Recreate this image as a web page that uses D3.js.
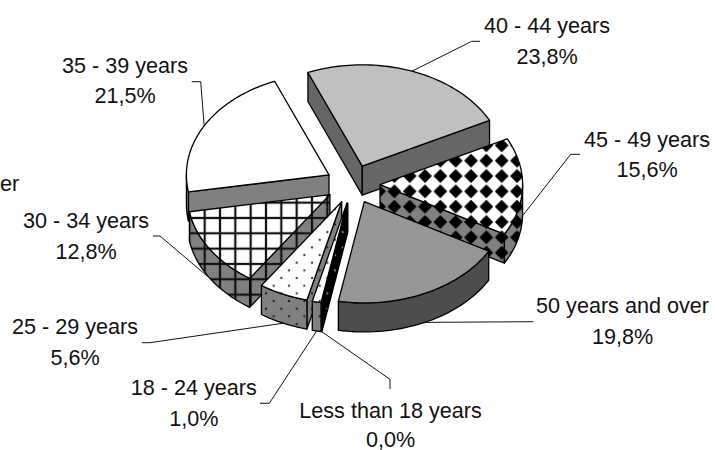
<!DOCTYPE html>
<html>
<head>
<meta charset="utf-8">
<style>html,body{margin:0;padding:0;background:#fff;overflow:hidden}text{font-family:"Liberation Sans",sans-serif;font-size:21.6px;fill:#111}</style>
<script src="https://cdn.jsdelivr.net/npm/d3@7/dist/d3.min.js"></script>
</head>
<body>
<svg id="c" width="715" height="450"></svg>
<script>
// Data
const categories = ["Less than 18 years","18 - 24 years","25 - 29 years","30 - 34 years","35 - 39 years","40 - 44 years","45 - 49 years","50 years and over"];
const values = [0.0,1.0,5.6,12.8,21.5,23.8,15.6,19.8];
const valueLabels = ["0,0%","1,0%","5,6%","12,8%","21,5%","23,8%","15,6%","19,8%"];

// Chart layout
const W=715,H=450, cx=352.8, cy=184.2, R=142.6, tilt=0.71, depth=29, explode=27.2;
const firstSlice=190.5*Math.PI/180;
const sx=d3.scaleLinear().domain([-1,1]).range([cx-R,cx+R]);
const sy=d3.scaleLinear().domain([-1,1]).range([cy-R*tilt,cy+R*tilt]);
const faceStyles=[
 {top:"#fff",face:"url(#dotsK)",wall:"url(#dotsG)"},
 {top:"url(#dotsW)",face:"url(#dotsG)",wall:"url(#dotsG)"},
 {top:"url(#dotsW)",face:"url(#dotsG)",wall:"url(#dotsG)"},
 {top:"url(#gridW)",face:"url(#gridG)",wall:"url(#gridG)"},
 {top:"#fff",face:"#808080",wall:"#808080"},
 {top:"#c0c0c0",face:"#666",wall:"#666"},
 {top:"url(#diaW)",face:"url(#diaG)",wall:"url(#diaG)"},
 {top:"#969696",face:"#4d4d4d",wall:"#4d4d4d"}
];
// label centre x, first baseline, second baseline, leader elbow and end
const labelPlaces=[
 {x:390.5,y1:418.3,y2:446.5,elbow:[390,379.3],end:[390,389]},
 {x:193.8,y1:395,y2:426,elbow:[269.3,403.3],end:[260,403.3]},
 {x:75,y1:334,y2:365,elbow:[150,342.7],end:[141.7,342.7]},
 {x:86,y1:228,y2:258.5,elbow:[160,236],end:[153,236]},
 {x:125,y1:72.7,y2:103.3,elbow:[200.7,81.7],end:[191.7,81.7]},
 {x:547,y1:33,y2:64,elbow:[471.7,41.3],end:[480,41.3]},
 {x:647,y1:146.7,y2:177,elbow:[570.7,154.3],end:[580,154.3]},
 {x:622.5,y1:313.3,y2:344,elbow:[533.3,321.7],end:[533.3,321.7]}
];

const svg=d3.select("#c");
const defs=svg.append("defs");
const P=15.33;
function pattern(id,bg,ox,oy,draw){
  const p=defs.append("pattern").attr("id",id).attr("patternUnits","userSpaceOnUse")
    .attr("width",P).attr("height",P).attr("patternTransform",`translate(${ox},${oy})`);
  p.append("rect").attr("width",P).attr("height",P).attr("fill",bg);
  draw(p);
}
const grid=p=>{
  p.append("rect").attr("x",P/2-1.1).attr("width",2.2).attr("height",P).attr("fill","#111");
  p.append("rect").attr("y",P/2-1.1).attr("height",2.2).attr("width",P).attr("fill","#111");
};
const dia=p=>p.append("path").attr("fill","#000")
  .attr("d",`M${P/2},${P/2-6.9}L${P/2+6.9},${P/2}L${P/2},${P/2+6.9}L${P/2-6.9},${P/2}Z`);
const dots=c=>p=>[[P/4,P/4],[3*P/4,3*P/4]].forEach(d=>p.append("circle").attr("cx",d[0]).attr("cy",d[1]).attr("r",1.2).attr("fill",c));
pattern("gridW","#fff",220-P/2,233.3-P/2,grid);
pattern("gridG","#808080",220-P/2,233.3-P/2,grid);
pattern("diaW","#fff",501.7-P/2,160.7-P/2,dia);
pattern("diaG","#808080",501.7-P/2,160.7-P/2,dia);
pattern("dotsW","#fff",296.7-P/4,262.7-P/4,dots("#444"));
pattern("dotsG","#808080",296.7-P/4,262.7-P/4,dots("#222"));
pattern("dotsK","#000",296.7-P/4,262.7-P/4,dots("#777"));

const TAU=2*Math.PI;
const arcs=d3.pie().sort(null).value(d=>d).startAngle(firstSlice).endAngle(firstSlice+TAU)(values);
const line=d3.line();
const toRim=(a,ax,ay,dz=0)=>[ax+sx(Math.sin(a))-sx(0), ay+sy(-Math.cos(a))-sy(0)+dz];

const slices=arcs.map((a,i)=>{
  const mid=(a.startAngle+a.endAngle)/2;
  const ax=sx(Math.sin(mid)*explode/R), ay=sy(-Math.cos(mid)*explode/R);
  return {a,i,mid,ax,ay};
});
const order=slices.slice().sort((p,q)=>Math.cos(q.mid)-Math.cos(p.mid));
// The zero slice is only a cut face, and sits on top of its neighbour
order.sort((p,q)=>(p.a.value===0)-(q.a.value===0));

const g=svg.append("g").attr("stroke","#000").attr("stroke-width",1.3).attr("stroke-linejoin","round");
order.forEach(s=>{
  const {a,i,ax,ay}=s, st=faceStyles[i];
  const wrap=a.startAngle>=TAU?TAU:0;
  const a0=a.startAngle-wrap, a1=a.endAngle-wrap;
  const radial=t=>[[ax,ay],toRim(t,ax,ay),toRim(t,ax,ay,depth),[ax,ay+depth]];
  if(Math.sin(a0)<0) g.append("path").attr("fill",st.face).attr("d",line(radial(a0))+"Z");
  if(Math.sin(a1)>0) g.append("path").attr("fill",st.face).attr("d",line(radial(a1))+"Z");
  // outer wall: only the part of the rim that faces the viewer
  const lo=Math.max(a0,Math.PI/2), hi=Math.min(a1,3*Math.PI/2);
  if(hi>lo){
    const ts=d3.range(0,41).map(k=>lo+(hi-lo)*k/40);
    const pts=ts.map(t=>toRim(t,ax,ay)).concat(ts.slice().reverse().map(t=>toRim(t,ax,ay,depth)));
    g.append("path").attr("fill",st.wall).attr("d",line(pts)+"Z");
  }
  if(a1>a0){
    const ts=d3.range(0,61).map(k=>a0+(a1-a0)*k/60);
    g.append("path").attr("fill",st.top).attr("d",line([[ax,ay]].concat(ts.map(t=>toRim(t,ax,ay))))+"Z");
  }
});

// Leaders and labels
const lg=svg.append("g").attr("fill","none").attr("stroke","#111").attr("stroke-width",1);
const tg=svg.append("g").attr("text-anchor","middle");
slices.forEach(s=>{
  const pl=labelPlaces[s.i];
  const start=toRim(s.mid,s.ax,s.ay,Math.cos(s.mid)<0.1?depth:0);
  lg.append("path").attr("d",line([start,pl.elbow,pl.end]));
  tg.append("text").attr("x",pl.x).attr("y",pl.y1).text(categories[s.i]);
  tg.append("text").attr("x",pl.x).attr("y",pl.y2).text(valueLabels[s.i]);
});
// Remnant of a label cut off by the left edge in the original
svg.append("text").attr("x",0).attr("y",191).text("er");
</script>
</body>
</html>
